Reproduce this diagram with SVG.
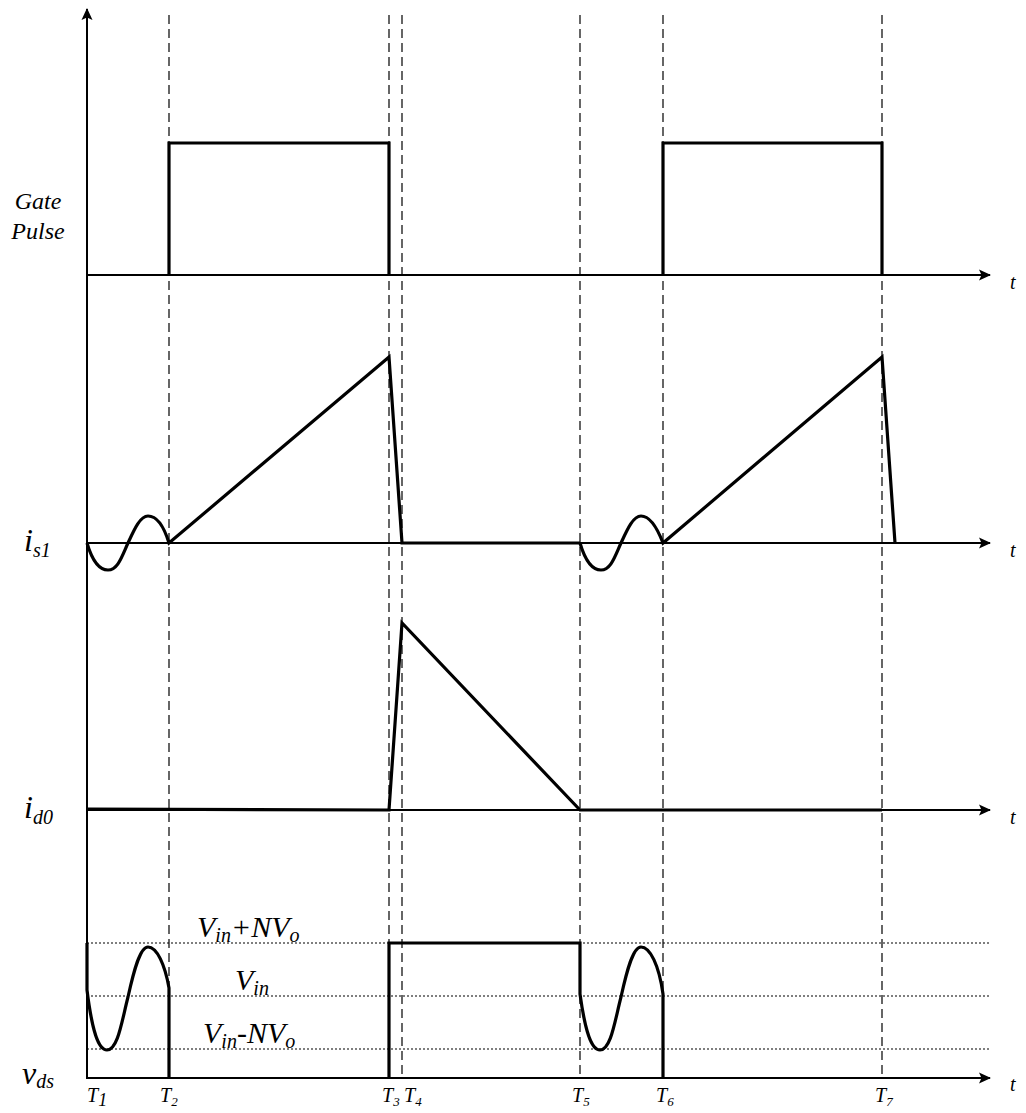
<svg xmlns="http://www.w3.org/2000/svg" width="1026" height="1113" viewBox="0 0 1026 1113">
<style>
.ax{stroke:#000;stroke-width:2;fill:none}
.wv{stroke:#000;stroke-width:3.2;fill:none;stroke-linejoin:miter}
.dash{stroke:#000;stroke-width:1.2;stroke-dasharray:9,5;fill:none}
.dot{stroke:#000;stroke-width:1.2;stroke-dasharray:2,2;fill:none}
text{font-family:"Liberation Serif","Times New Roman",serif;font-style:italic;fill:#000}
.sm{font-size:18px}
.lb{font-size:24px}
.big{font-size:32px}
.lv{font-size:30px}
.tt{font-size:20px}
</style>
<defs>
<marker id="ah" viewBox="0 0 12 12" refX="11" refY="6" markerWidth="12" markerHeight="12" markerUnits="userSpaceOnUse" orient="auto">
<path d="M0,0.5 L12,6 L0,11.5 L2.5,6 Z" fill="#000"/>
</marker>
</defs>
<g id="connectors">
<line class="dash" x1="169" y1="15" x2="169" y2="1078"/>
<line class="dash" x1="389" y1="15" x2="389" y2="1078"/>
<line class="dash" x1="402" y1="15" x2="402" y2="1078"/>
<line class="dash" x1="580" y1="15" x2="580" y2="1078"/>
<line class="dash" x1="663" y1="15" x2="663" y2="1078"/>
<line class="dash" x1="882" y1="15" x2="882" y2="1078"/>
<line class="dot" x1="87" y1="943" x2="990" y2="943"/>
<line class="dot" x1="87" y1="996" x2="990" y2="996"/>
<line class="dot" x1="87" y1="1049" x2="990" y2="1049"/>
<line class="ax" x1="87" y1="1079" x2="87" y2="9" stroke-width="2.6" marker-end="url(#ah)"/>
<line class="ax" x1="87" y1="275" x2="990" y2="275" marker-end="url(#ah)"/>
<line class="ax" x1="87" y1="543" x2="990" y2="543" marker-end="url(#ah)"/>
<line class="ax" x1="87" y1="810" x2="990" y2="810" marker-end="url(#ah)"/>
<line class="ax" x1="87" y1="1078" x2="990" y2="1078" stroke-width="2.6" marker-end="url(#ah)"/>
</g>
<g id="gate-pulse">
<path class="wv" d="M169,275 L169,143 L389,143 L389,275"/>
<path class="wv" d="M663,275 L663,143 L882,143 L882,275"/>
</g>
<g id="is1">
<path id="s1wave" class="wv" d="M87,543 C92,560 99,570 108,570 C118,570 122,556 128,543 C134,530 140,516 148,516 C158,516 165,530 169,543 L389,357 L402,543 L580,543"/>
<path class="wv" d="M580,543 C585,560 592,570 601,570 C611,570 615,556 621,543 C627,530 633,516 641,516 C651,516 658,530 663,543 L882,357 L895,543"/>
</g>
<g id="id0">
<path class="wv" d="M87,809 L389,810 L402,623 L580,810 L882,810"/>
</g>
<g id="vds">
<path class="wv" d="M87,943 L87,990 C92,1030 98,1050 107,1050 C118,1050 122,1020 128,997 C134,970 140,947 148,947 C157,947 165,965 169,988 L169,1078"/>
<path class="wv" d="M389,1078 L389,943 L580,943 L580,994 C585,1030 591,1050 600,1050 C611,1050 615,1020 621,997 C627,970 633,947 641,947 C650,947 659,965 663,994 L663,1078"/>
</g>
<g id="labels">
<text class="lb" x="38" y="209" text-anchor="middle">Gate</text>
<text class="lb" x="38" y="239" text-anchor="middle">Pulse</text>
<text class="big" x="24" y="551">i<tspan class="tt" dy="6">s1</tspan></text>
<text class="big" x="24" y="818">i<tspan class="tt" dy="6">d0</tspan></text>
<text class="big" x="22" y="1084">v<tspan class="tt" dy="4">ds</tspan></text>
<text class="tt" x="1010" y="289">t</text>
<text class="tt" x="1010" y="557">t</text>
<text class="tt" x="1010" y="824">t</text>
<text class="tt" x="1010" y="1091">t</text>
<text class="lv" x="197" y="937">V<tspan class="tt" dy="5">in</tspan><tspan dy="-5">+NV</tspan><tspan class="tt" dy="5">o</tspan></text>
<text class="lv" x="235" y="990">V<tspan class="tt" dy="5">in</tspan></text>
<text class="lv" x="203" y="1043">V<tspan class="tt" dy="5">in</tspan><tspan dy="-5">-NV</tspan><tspan class="tt" dy="5">o</tspan></text>
<text class="tt" x="87" y="1102">T<tspan class="sm" font-size="13" dy="4">1</tspan></text>
<text class="tt" x="160" y="1102">T<tspan font-size="13" dy="4">2</tspan></text>
<text class="tt" x="382" y="1102">T<tspan font-size="13" dy="4">3</tspan></text>
<text class="tt" x="404" y="1102">T<tspan font-size="13" dy="4">4</tspan></text>
<text class="tt" x="572" y="1102">T<tspan font-size="13" dy="4">5</tspan></text>
<text class="tt" x="656" y="1102">T<tspan font-size="13" dy="4">6</tspan></text>
<text class="tt" x="875" y="1102">T<tspan font-size="13" dy="4">7</tspan></text>
</g>
</svg>
